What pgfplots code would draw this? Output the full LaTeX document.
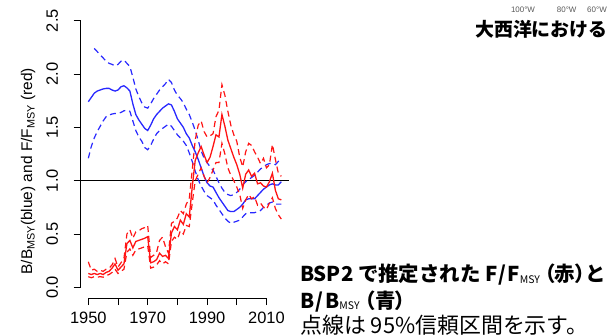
\documentclass[border=0pt]{standalone}
\usepackage{fontspec}
\setmainfont{Liberation Sans}
\newfontfamily\jp{Noto Sans CJK JP}
\usepackage{pgfplots}
\pgfplotsset{compat=1.18}
\usepackage{pgfplotstable}
\definecolor{rblue}{RGB}{40,40,255}
\definecolor{rred}{RGB}{255,20,20}
\newcommand{\msy}{\raisebox{-1.5bp}{\fontsize{10.5}{12}\selectfont\mdseries MSY}}
\newcommand{\pl}[1]{{\addfontfeature{RawFeature=+palt}#1}}

\pgfplotstableread{
year b     blo   bhi   f     flo   fhi
1950 1.74  1.21  nan   0.13  0.10  0.24
1951 1.78  1.32  nan   0.12  0.09  0.16
1952 1.82  1.40  2.24  0.13  0.10  0.17
1953 1.84  1.46  2.21  0.12  0.095 0.15
1954 1.85  1.51  2.18  0.13  0.10  0.16
1955 1.86  1.56  2.15  0.12  0.095 0.15
1956 1.865 1.60  2.12  0.14  0.11  0.17
1957 1.865 1.615 2.10  0.15  0.12  0.18
1958 1.85  1.625 2.09  0.18  0.14  0.21
1959 1.84  1.63  2.075 0.22  0.17  0.27
1960 1.85  1.63  2.09  0.16  0.13  0.19
1961 1.88  1.64  2.12  0.19  0.15  0.23
1962 1.89  1.655 2.13  0.22  0.17  0.27
1963 1.87  1.66  2.10  0.41  0.33  0.50
1964 1.84  1.65  2.07  0.44  0.36  0.54
1965 1.72  1.56  1.97  0.37  0.30  0.46
1966 1.62  1.47  1.86  0.43  0.35  0.52
1967 1.57  1.41  1.79  0.44  0.36  0.53
1968 1.53  1.37  1.73  0.45  0.37  0.55
1969 1.49  1.31  1.69  0.46  0.38  0.56
1970 1.47  1.29  1.68  0.475 0.39  0.58
1971 1.52  1.33  1.72  0.23  0.18  0.28
1972 1.58  1.39  1.77  0.24  0.19  0.30
1973 1.62  1.44  1.81  0.26  0.21  0.33
1974 1.65  1.47  1.85  0.32  0.25  0.44
1975 1.68  1.49  1.88  0.29  0.22  0.47
1976 1.70  1.51  1.91  0.30  0.24  0.38
1977 1.72  1.53  1.95  0.27  0.22  0.32
1978 1.71  1.51  1.92  0.51  0.43  0.60
1979 1.65  1.47  1.85  0.57  0.47  0.62
1980 1.58  1.43  1.80  0.54  0.45  0.65
1981 1.54  1.40  1.77  0.63  0.53  0.72
1982 1.50  1.37  1.73  0.59  0.50  0.69
1983 1.44  1.33  1.67  0.69  0.58  0.78
1984 1.40  1.26  1.62  0.66  0.57  0.83
1985 1.33  1.18  1.55  0.94  0.79  1.10
1986 1.27  1.09  1.47  1.19  1.00  1.38
1987 1.20  1.01  1.38  1.26  1.06  1.52
1988 1.12  0.95  1.28  1.32  1.12  1.56
1989 1.04  0.90  1.21  1.24  1.04  1.46
1990 0.98  0.86  1.17  1.17  0.98  1.41
1991 0.95  0.84  1.13  1.22  1.03  1.42
1992 0.94  0.82  1.10  1.32  1.10  1.44
1993 0.89  0.77  1.04  1.43  1.17  1.60
1994 0.84  0.73  0.98  1.41  1.17  1.66
1995 0.80  0.69  0.93  1.62  1.35  1.90
1996 0.76  0.65  0.89  1.51  1.25  1.80
1997 0.72  0.62  0.87  1.38  1.12  1.65
1998 0.71  0.60  0.86  1.30  1.05  1.52
1999 0.71  0.61  0.87  1.22  1.00  1.43
2000 0.73  0.62  0.89  1.15  0.94  1.37
2001 0.75  0.63  0.92  1.06  0.87  1.22
2002 0.78  0.66  0.96  0.93  0.74  1.13
2003 0.82  0.69  0.99  1.06  0.82  1.27
2004 0.83  0.70  1.01  1.10  0.87  1.35
2005 0.83  0.70  1.03  1.04  0.83  1.33
2006 0.83  0.70  1.05  1.07  0.85  1.27
2007 0.86  0.71  1.08  0.97  0.77  1.22
2008 0.89  0.72  1.11  0.98  0.79  1.16
2009 0.92  0.75  1.13  0.95  0.75  1.21
2010 0.94  0.77  1.15  0.94  0.73  1.12
2011 0.96  0.79  1.16  0.99  0.79  1.15
2012 0.97  0.80  1.16  1.07  0.84  1.34
2013 0.96  0.78  1.15  0.91  0.74  1.20
2014 0.96  0.78  1.18  0.83  0.68  1.07
2015 0.99  0.78  1.21  0.82  0.64  1.04
}\datatab

\begin{document}
\begin{tikzpicture}
\useasboundingbox (0,0) rectangle (609bp,336bp);
\begin{axis}[
  at={(80.6bp,38bp)}, anchor=south west,
  scale only axis, width=211.4bp, height=288bp,
  xmin=1947.4, xmax=2018.6, ymin=-0.1, ymax=2.6,
  axis x line*=bottom, axis y line*=left,
  axis line style={draw=none},
  tick align=outside, major tick length=7bp,
  tick style={black, line width=0.7bp},
  xtick={1950,1960,...,2010},
  xticklabels={1950,,1970,,1990,,2010},
  ytick={0,0.5,1,1.5,2,2.5},
  yticklabels={0.0,0.5,1.0,1.5,2.0,2.5},
  ticklabel style={font=\fontsize{16.5}{18}\selectfont},
  xticklabel shift=3bp,
  yticklabel shift=12bp,
  yticklabel style={rotate=90, anchor=south},
  ylabel={B/B\textsubscript{MSY}(blue) and F/F\textsubscript{MSY} (red)},
  ylabel style={at={(axis description cs:-0.2488,0.44)}, anchor=center, font=\fontsize{15.5}{17}\selectfont},
  clip=false,
]
\draw[line width=0.7bp] (axis cs:1950,-0.1) -- (axis cs:2010,-0.1);
\draw[line width=0.7bp] (axis cs:1947.4,0) -- (axis cs:1947.4,2.5);
\addplot[black, line width=0.8bp] coordinates {(1947.4,1) (2017.5,1)};
\addplot[rblue, line width=1.3bp] table[x=year, y=b] {\datatab};
\addplot[rblue, line width=1.2bp, dash pattern=on 6bp off 4bp] table[x=year, y=blo] {\datatab};
\addplot[rblue, line width=1.2bp, dash pattern=on 6bp off 4bp] table[x=year, y=bhi] {\datatab};
\addplot[rred, line width=1.3bp] table[x=year, y=f] {\datatab};
\addplot[rred, line width=1.2bp, dash pattern=on 6bp off 4bp] table[x=year, y=flo] {\datatab};
\addplot[rred, line width=1.2bp, dash pattern=on 6bp off 4bp] table[x=year, y=fhi] {\datatab};
\end{axis}
\node[anchor=center, inner sep=0, font=\fontsize{8}{9}\selectfont, text=black!65] at (523bp,326.5bp) {100°W};
\node[anchor=center, inner sep=0, font=\fontsize{8}{9}\selectfont, text=black!65] at (566.7bp,326.5bp) {80°W};
\node[anchor=center, inner sep=0, font=\fontsize{8}{9}\selectfont, text=black!65] at (597bp,326.5bp) {60°W};
\node[anchor=west, inner sep=0, font=\jp\bfseries\fontsize{19}{22}\selectfont] at (475bp,307bp) {大西洋における};
\node[anchor=base west, inner sep=0, font=\jp\bfseries\fontsize{20.5}{24}\selectfont] at (300bp,54.4bp) {BSP2 で推定された F\kern1bp/\kern1bp F\msy\kern4.5bp\pl{（}赤\pl{）}と};
\node[anchor=base west, inner sep=0, font=\jp\bfseries\fontsize{20.5}{24}\selectfont] at (300bp,27.7bp) {B\kern1.5bp/\kern1.5bp B\msy\kern5.5bp\pl{（}青\pl{）}};
\node[anchor=base west, inner sep=0, font=\jp\fontsize{22}{24}\selectfont] at (300bp,2.4bp) {点線は 95\%信頼区間を示す。};
\end{tikzpicture}
\end{document}
